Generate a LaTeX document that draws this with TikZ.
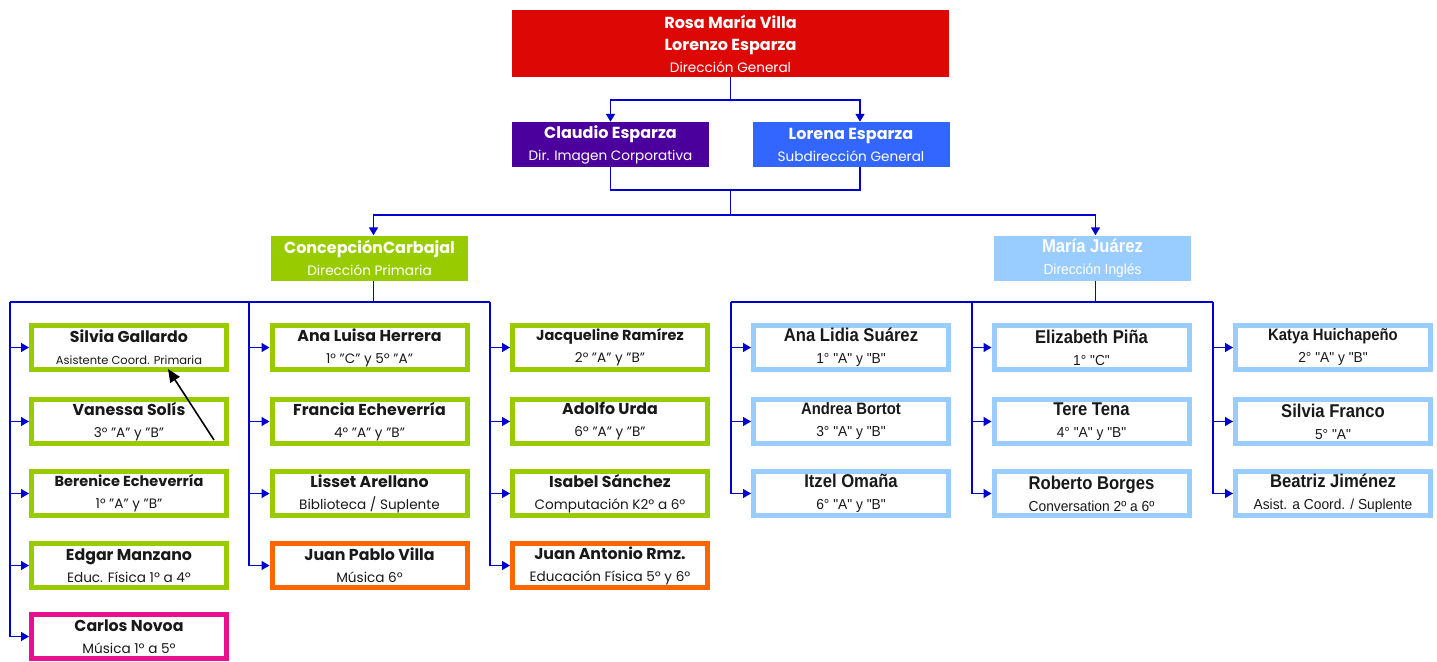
\documentclass[tikz,border=0pt]{standalone}
\usepackage{fontspec}
\setmainfont{Poppins}
\newfontfamily\estrecha[FakeStretch=0.9]{Liberation Sans}
\newfontfamily\estrecharol[FakeStretch=0.95]{Liberation Sans}
\usetikzlibrary{positioning,arrows.meta}

\definecolor{rojo}{RGB}{221,8,6}
\definecolor{morado}{RGB}{75,0,158}
\definecolor{azulfuerte}{RGB}{51,102,255}
\definecolor{verde}{RGB}{153,204,0}
\definecolor{celeste}{RGB}{153,204,255}
\definecolor{naranja}{RGB}{255,102,0}
\definecolor{fucsia}{RGB}{232,16,140}
\definecolor{linea}{RGB}{0,0,210}
\definecolor{tinta}{RGB}{25,25,25}

% texto de cada caja
\newcommand{\rol}[1]{{\fontsize{13.6}{22}\selectfont #1}}
\newcommand{\chico}[1]{{\fontsize{14.5}{22}\selectfont\bfseries #1}}
\newcommand{\ing}[2]{{\estrecha\fontsize{18.5}{22}\selectfont\bfseries #1}\\{\estrecharol\fontsize{14.5}{22}\selectfont #2}}
\newcommand{\ingchico}[2]{{\estrecha\fontsize{16.5}{22}\selectfont\bfseries #1}\\{\estrecharol\fontsize{14.5}{22}\selectfont #2}}

\tikzset{
  jefe/.style={fill=#1, text=white, minimum width=197pt, minimum height=45pt,
    inner sep=0pt, align=center, font=\fontsize{16}{22}\selectfont},
  staff/.style={draw=#1, line width=5pt, fill=white, text=tinta, minimum width=195pt,
    minimum height=44pt, inner sep=0pt, align=center, font=\fontsize{15.8}{22}\selectfont},
  enlace/.style={draw=linea, line width=1.5pt},
  flechita/.style={enlace, -{Triangle[length=8pt,width=9pt]}}
}

\begin{document}
\begin{tikzpicture}[x=1pt,y=1pt,yscale=-1]
  \fill[white] (0,0) rectangle (1437,661);

  % Direccion
  \node[jefe=rojo, minimum width=437pt, minimum height=67pt] (dg) at (730.5,43.5)
    {\bfseries Rosa María Villa\\\bfseries Lorenzo Esparza\\\rol{Dirección General}};
  \node[jefe=morado] (ce) at (610.5,144.5) {\bfseries Claudio Esparza\\\rol{Dir. Imagen Corporativa}};
  \node[jefe=azulfuerte] (le) at (851,144.5) {\bfseries Lorena Esparza\\\rol{Subdirección General}};
  \node[jefe=verde] (cc) at (369.5,258) {\bfseries ConcepciónCarbajal\\\rol{Dirección Primaria}};
  \node[jefe=celeste] (mj) at (1092.5,258) {\ing{María Juárez}{Dirección Inglés}};

  % Primaria, columna 1
  \node[staff=verde] (sg) at (129,347.5) {\bfseries Silvia Gallardo\\{\fontsize{11.5}{22}\selectfont Asistente Coord. Primaria}};
  \node[staff=verde] (vs) at (129,421.5) {\bfseries Vanessa Solís\\\rol{3° "A" y "B"}};
  \node[staff=verde] (be) at (129,493.5) {\chico{Berenice Echeverría}\\\rol{1° "A" y "B"}};
  \node[staff=verde] (em) at (129,565.5) {\bfseries Edgar Manzano\\\rol{Educ. Física 1º a 4º}};
  \node[staff=fucsia] (cn) at (129,636.5) {\bfseries Carlos Novoa\\\rol{Música 1º a 5º}};

  % Primaria, columna 2
  \node[staff=verde] (alh) at (369.5,347.5) {\bfseries Ana Luisa Herrera\\\rol{1° "C" y 5º "A"}};
  \node[staff=verde] (fe) at (369.5,421.5) {\bfseries Francia Echeverría\\\rol{4° "A" y "B"}};
  \node[staff=verde] (la) at (369.5,493.5) {\bfseries Lisset Arellano\\\rol{Biblioteca / Suplente}};
  \node[staff=naranja] (jpv) at (369.5,565.5) {\bfseries Juan Pablo Villa\\\rol{Música 6º}};

  % Primaria, columna 3
  \node[staff=verde] (jr) at (610,347.5) {\chico{Jacqueline Ramírez}\\\rol{2° "A" y "B"}};
  \node[staff=verde] (au) at (610,421.5) {\bfseries Adolfo Urda\\\rol{6º "A" y "B"}};
  \node[staff=verde] (is) at (610,493.5) {\bfseries Isabel Sánchez\\\rol{Computación K2º a 6º}};
  \node[staff=naranja] (jar) at (610,565.5) {\bfseries Juan Antonio Rmz.\\\rol{Educación Física 5º y 6º}};

  % Ingles
  \node[staff=celeste] (als) at (851,347.5) {\ing{Ana Lidia Suárez}{1° "A" y "B"}};
  \node[staff=celeste] (ab) at (851,421.5) {\ingchico{Andrea Bortot}{3° "A" y "B"}};
  \node[staff=celeste] (io) at (851,493.5) {\ing{Itzel Omaña}{6° "A" y "B"}};
  \node[staff=celeste] (ep) at (1091.5,347.5) {\ing{Elizabeth Piña}{1° "C"}};
  \node[staff=celeste] (tt) at (1091.5,421.5) {\ing{Tere Tena}{4° "A" y "B"}};
  \node[staff=celeste] (rb) at (1091.5,493.5) {\ing{Roberto Borges}{Conversation 2º a 6º}};
  \node[staff=celeste] (kh) at (1333,347.5) {\ingchico{Katya Huichapeño}{2° "A" y "B"}};
  \node[staff=celeste] (sf) at (1333,421.5) {\ing{Silvia Franco}{5° "A"}};
  \node[staff=celeste] (bj) at (1333,493.5) {\ing{Beatriz Jiménez}{Asist. a Coord. / Suplente}};

  % conectores de arriba
  \draw[enlace] (dg.south) -- ++(0,23) coordinate (j1);
  \draw[flechita] (j1) -| (ce.north);
  \draw[flechita] (j1) -| ([xshift=9pt]le.north);
  \coordinate (j2) at (730.5,190);
  \draw[enlace] (ce.south) |- (j2) -| ([xshift=9pt]le.south);
  \draw[enlace] (j2) -- ++(0,25) coordinate (j3);
  \draw[flechita] (j3) -| ([xshift=4pt]cc.north);
  \draw[flechita] (j3) -| ([xshift=3pt]mj.north);

  % barras de primaria
  \draw[enlace] ([xshift=4pt]cc.south) -- ++(0,22) coordinate (bp);
  \coordinate (p1) at (10,302);
  \coordinate (p2) at (249,302);
  \coordinate (p3) at (490,302);
  \draw[enlace] (p1) -- (p3);
  \draw[enlace] (p1) -- (p1 |- cn.west);
  \draw[enlace] (p2) -- (p2 |- jpv.west);
  \draw[enlace] (p3) -- (p3 |- jar.west);
  \foreach \n in {sg,vs,be,em,cn} \draw[flechita] (p1 |- \n.west) -- (\n.west);
  \foreach \n in {alh,fe,la,jpv} \draw[flechita] (p2 |- \n.west) -- (\n.west);
  \foreach \n in {jr,au,is,jar} \draw[flechita] (p3 |- \n.west) -- (\n.west);

  % barras de ingles
  \draw[enlace] ([xshift=3pt]mj.south) -- ++(0,22) coordinate (bi);
  \coordinate (q1) at (731,302);
  \coordinate (q2) at (972,302);
  \coordinate (q3) at (1213,302);
  \draw[enlace] (q1) -- (q3);
  \draw[enlace] (q1) -- (q1 |- io.west);
  \draw[enlace] (q2) -- (q2 |- rb.west);
  \draw[enlace] (q3) -- (q3 |- bj.west);
  \foreach \n in {als,ab,io} \draw[flechita] (q1 |- \n.west) -- (\n.west);
  \foreach \n in {ep,tt,rb} \draw[flechita] (q2 |- \n.west) -- (\n.west);
  \foreach \n in {kh,sf,bj} \draw[flechita] (q3 |- \n.west) -- (\n.west);

  % flecha negra
  \coordinate (fn) at (214,440);
  \draw[line width=1.6pt, -{Triangle[length=13pt,width=11pt]}] (fn) -- (168,369);
\end{tikzpicture}
\end{document}
